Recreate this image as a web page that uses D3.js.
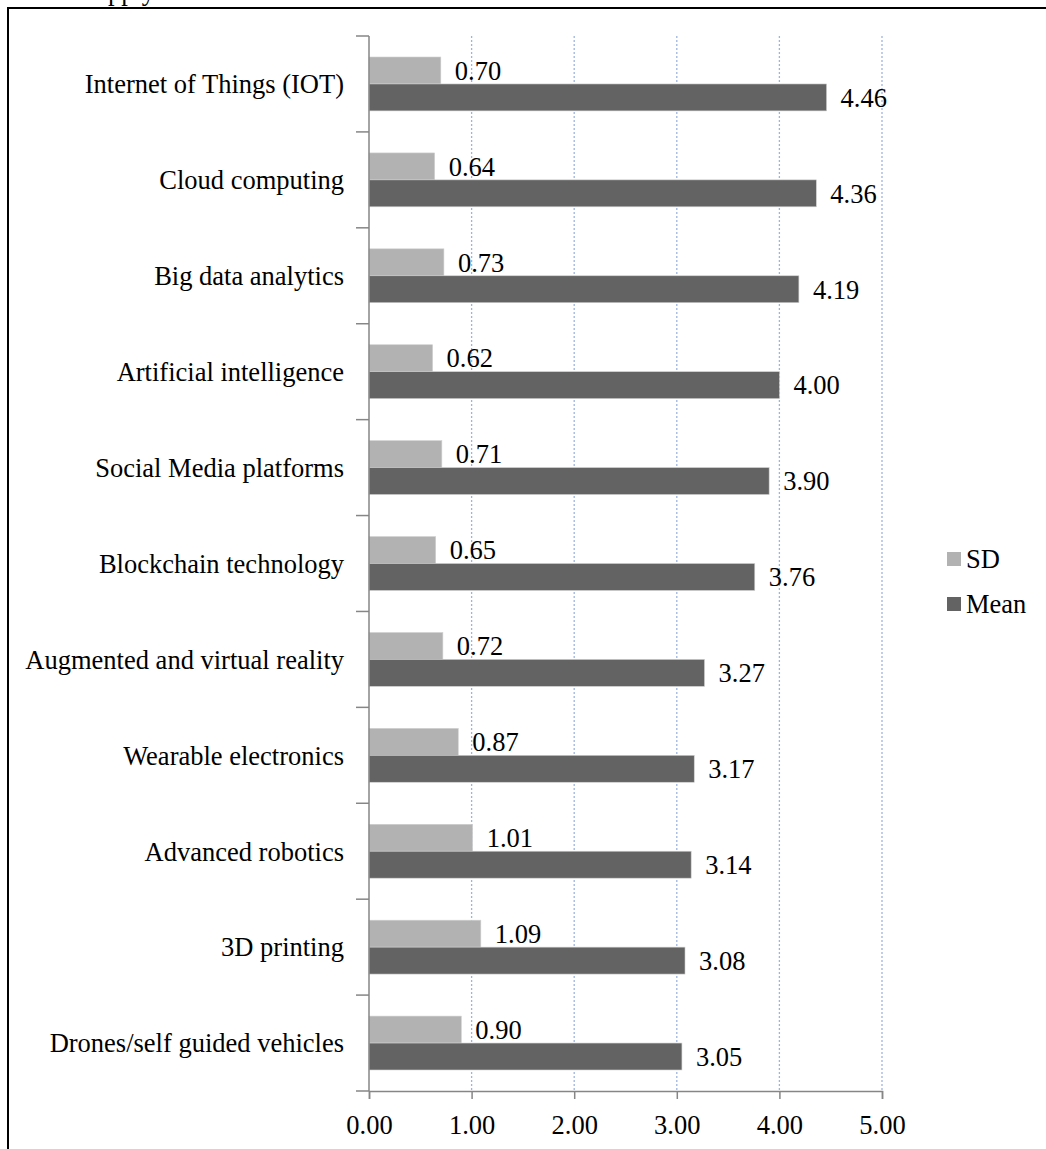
<!DOCTYPE html>
<html>
<head>
<meta charset="utf-8">
<script src="https://cdn.jsdelivr.net/npm/d3@7"></script>
<style>
  body { margin: 0; background: #fff; }
  svg text { font-family: "Liberation Serif", "Times New Roman", serif; fill: #000; }
</style>
</head>
<body>
<div id="chart"></div>
<script>
// categories, top to bottom
const categories = [
  "Internet of Things (IOT)",
  "Cloud computing",
  "Big data analytics",
  "Artificial intelligence",
  "Social Media platforms",
  "Blockchain technology",
  "Augmented and virtual reality",
  "Wearable electronics",
  "Advanced robotics",
  "3D printing",
  "Drones/self guided vehicles"
];
const sdValues   = [0.70, 0.64, 0.73, 0.62, 0.71, 0.65, 0.72, 0.87, 1.01, 1.09, 0.90];
const meanValues = [4.46, 4.36, 4.19, 4.00, 3.90, 3.76, 3.27, 3.17, 3.14, 3.08, 3.05];
const seriesNames = ["SD", "Mean"];
const xTicks = [0, 1, 2, 3, 4, 5];

const seriesColor = { SD: "#b2b2b2", Mean: "#636363" };
const fontSize = '26.5px';

function draw() {
  const width = 1046;
  const height = 1149;

  const svg = d3.select('#chart')
      .append('svg')
      .attr('width', width)
      .attr('height', height);

  // text of the page above the frame, cut off in the original
  svg.append('text')
      .attr('x', 108)
      .attr('y', 0)
      .style('font-size', fontSize)
      .text('pply');

  // frame
  svg.append('path')
      .attr('d', 'M8,' + height + ' V8 H' + width)
      .attr('fill', 'none')
      .attr('stroke', '#000')
      .attr('stroke-width', 2);

  const x = d3.scaleLinear()
      .domain([0, 5])
      .range([369, 882]);

  const y = d3.scaleBand()
      .domain(categories)
      .range([36, 1091])
      .padding(0);

  const inner = d3.scaleBand()
      .domain(seriesNames)
      .range([0, y.bandwidth()])
      .paddingInner(0)
      .paddingOuter(0.78);

  // dotted grid lines
  svg.append('g')
      .selectAll('line')
      .data(xTicks.filter(d => d > 0))
      .enter()
      .append('line')
      .attr('x1', d => x(d))
      .attr('x2', d => x(d))
      .attr('y1', y.range()[0])
      .attr('y2', y.range()[1])
      .attr('stroke', '#9db4e0')
      .attr('stroke-width', 1.3)
      .attr('stroke-dasharray', '2,2');

  const rows = categories.map((c, i) => ({ cat: c, SD: sdValues[i], Mean: meanValues[i] }));

  const groups = svg.append('g')
      .selectAll('g')
      .data(rows)
      .enter()
      .append('g')
      .attr('transform', d => 'translate(0,' + y(d.cat) + ')');

  seriesNames.forEach(function(s) {
    groups.append('rect')
        .attr('x', x(0))
        .attr('y', inner(s))
        .attr('width', d => x(d[s]) - x(0))
        .attr('height', inner.bandwidth())
        .attr('fill', seriesColor[s])
        .attr('stroke', '#d0d0d0')
        .attr('stroke-width', 0.6);

    groups.append('text')
        .attr('x', d => x(d[s]) + 14)
        .attr('y', inner(s) + inner.bandwidth() / 2)
        .attr('dy', '0.35em')
        .style('font-size', fontSize)
        .text(d => d3.format('.2f')(d[s]));
  });

  // category labels
  svg.append('g')
      .selectAll('text')
      .data(categories)
      .enter()
      .append('text')
      .attr('x', 344)
      .attr('y', d => y(d) + y.bandwidth() / 2)
      .attr('dy', '0.35em')
      .attr('text-anchor', 'end')
      .style('font-size', fontSize)
      .text(d => d);

  // category axis with ticks at band edges
  const edges = categories.map(c => y(c)).concat([y.range()[1]]);
  const yAxis = svg.append('g');
  yAxis.append('line')
      .attr('x1', x(0)).attr('x2', x(0))
      .attr('y1', y.range()[0]).attr('y2', y.range()[1])
      .attr('stroke', '#868686').attr('stroke-width', 1.5);
  yAxis.selectAll('line.tick')
      .data(edges)
      .enter()
      .append('line')
      .attr('class', 'tick')
      .attr('x1', x(0) - 13).attr('x2', x(0))
      .attr('y1', d => d).attr('y2', d => d)
      .attr('stroke', '#868686').attr('stroke-width', 1.5);

  // value axis
  const xAxis = d3.axisBottom(x)
      .tickValues(xTicks)
      .tickFormat(d3.format('.2f'))
      .tickSize(8)
      .tickSizeOuter(8);

  const gx = svg.append('g')
      .attr('transform', 'translate(0,' + y.range()[1] + ')')
      .call(xAxis);
  gx.select('.domain')
      .attr('stroke', '#868686')
      .attr('stroke-width', 1.5);
  gx.selectAll('.tick line')
      .attr('stroke', '#868686')
      .attr('stroke-width', 1.5);
  gx.selectAll('.tick text')
      .attr('y', 24)
      .style('font-size', fontSize)
      .style('font-family', '"Liberation Serif", serif')
      .attr('fill', '#000');

  // legend
  const legend = svg.append('g')
      .selectAll('g')
      .data(seriesNames)
      .enter()
      .append('g')
      .attr('transform', (d, i) => 'translate(947,' + (552 + i * 45) + ')');
  legend.append('rect')
      .attr('width', 14)
      .attr('height', 14)
      .attr('fill', d => seriesColor[d]);
  legend.append('text')
      .attr('x', 19)
      .attr('y', 7)
      .attr('dy', '0.35em')
      .style('font-size', fontSize)
      .text(d => d);
}

draw();
</script>
</body>
</html>
